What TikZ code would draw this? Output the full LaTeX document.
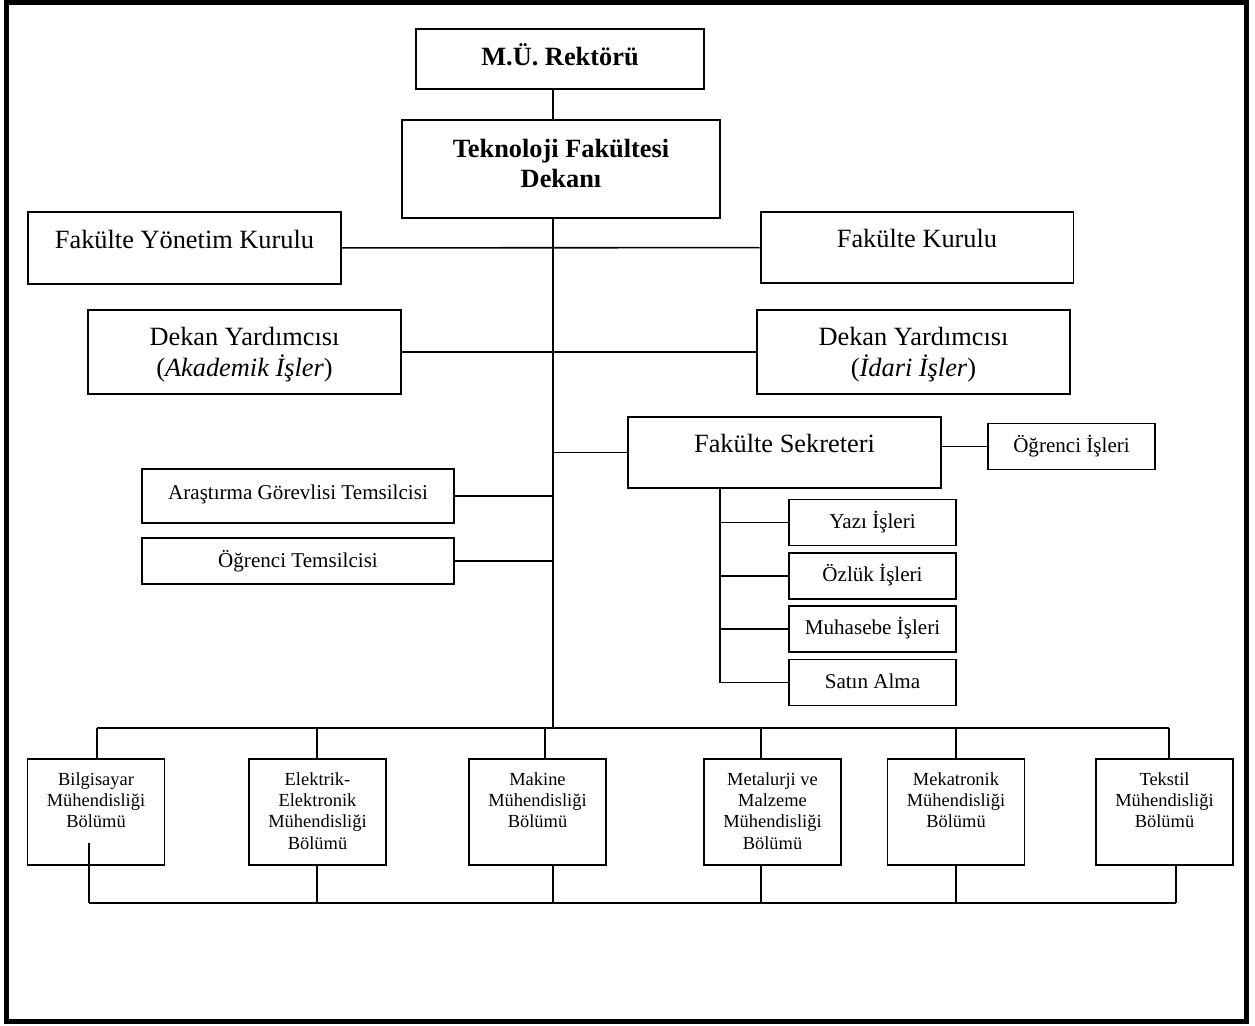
\documentclass[tikz,border=0pt]{standalone}
\usepackage{fontspec}
\setmainfont{Liberation Serif}

\tikzset{
  orgbox/.style={draw, line width=1.1pt, inner sep=0pt, align=center},
  bigbox/.style={orgbox, font=\fontsize{15}{17.5}\selectfont},
  smallbox/.style={orgbox, font=\fontsize{12}{14}\selectfont},
  rektorbox/.style={bigbox, font=\fontsize{15}{17.5}\selectfont\bfseries, minimum width=5.76cm, text height=0.72cm, text depth=0.48cm},
  dekanbox/.style={bigbox, font=\fontsize{15}{17.5}\selectfont\bfseries, minimum width=6.36cm, text height=1.356cm, text depth=0.604cm},
  kurul/.style={bigbox, minimum width=6.26cm, text height=0.72cm, text depth=0.71cm},
  yard/.style={bigbox, minimum width=6.26cm, text height=1.32cm, text depth=0.36cm},
  birim/.style={smallbox, minimum width=3.34cm, text height=0.57cm, text depth=0.35cm},
  temsil/.style={smallbox, minimum width=6.24cm},
  dept/.style={orgbox, font=\fontsize{10.5}{12.2}\selectfont, minimum width=2.74cm},
  conn/.style={line width=0.9pt}
}

\begin{document}
\begin{tikzpicture}[x=0.02cm, y=-0.02cm]
\useasboundingbox (0,0) rectangle (1255,1025);
\draw[line width=2.85pt] (6.5,2) rectangle (1246.5,1021.5);

\node[rektorbox] (rektor) at (560,59) {M.Ü. Rektörü};
\node[dekanbox] (dekan) at (561,169) {Teknoloji Fakültesi\\Dekanı};
\node[kurul] (fyk) at (184.5,248) {Fakülte Yönetim Kurulu};
\node[kurul] (fk) at (917,247.5) {Fakülte Kurulu};
\node[yard] (dy1) at (244.5,352) {Dekan Yardımcısı\\(\textit{Akademik İşler})};
\node[yard] (dy2) at (913.5,352) {Dekan Yardımcısı\\(\textit{İdari İşler})};
\node[kurul] (fs) at (784.5,452.5) {Fakülte Sekreteri};
\node[birim] (os) at (1071.5,446.5) {Öğrenci İşleri};
\node[temsil, text height=0.60cm, text depth=0.48cm] (ar) at (298,496) {Araştırma Görevlisi Temsilcisi};
\node[temsil, text height=0.58cm, text depth=0.34cm] (ot) at (298,561) {Öğrenci Temsilcisi};
\foreach \n/\y/\txt in {yazi/522.5/Yazı İşleri, ozluk/576/Özlük İşleri, muh/629/Muhasebe İşleri, satin/682.5/Satın Alma}
  \node[birim] (\n) at (872.5,\y) {\txt};

\coordinate (bus) at (553,728);
\coordinate (sek) at (720,488);
\draw[conn] (rektor.south -| bus) -- (dekan.north -| bus);
\draw[conn] (dekan.south -| bus) -- (bus);
\draw[conn] (fyk) -- (fk);
\draw[conn] (dy1) -- (dy2);
\draw[conn] (fs.west -| bus) -- (fs.west);
\draw[conn] (fs.east |- os) -- (os.west);
\draw[conn] (ar.east) -- (ar.east -| bus);
\draw[conn] (ot.east) -- (ot.east -| bus);
\draw[conn] (sek) |- (satin.west);
\foreach \n in {yazi,ozluk,muh}
  \draw[conn] (sek |- \n.west) -- (\n.west);

\foreach \n/\x/\tx/\bx/\sy/\hgt/\dpt/\txt in {
  bilg/96/97/89/843/1.378/0.742/{Bilgisayar\\Mühendisliği\\Bölümü},
  elek/317.5/317/317/865/1.806/0.314/{Elektrik-\\Elektronik\\Mühendisliği\\Bölümü},
  mak/537.5/545/553/865/1.378/0.742/{Makine\\Mühendisliği\\Bölümü},
  met/772.5/761/761/865/1.806/0.314/{Metalurji ve\\Malzeme\\Mühendisliği\\Bölümü},
  mek/956/956/956/865/1.378/0.742/{Mekatronik\\Mühendisliği\\Bölümü},
  tek/1164.5/1169/1176/865/1.378/0.742/{Tekstil\\Mühendisliği\\Bölümü}}{
  \node[dept, text height=\hgt cm, text depth=\dpt cm] (\n) at (\x,812) {\txt};
  \coordinate (\n-t) at (\tx,728);
  \coordinate (\n-s) at (\bx,\sy);
  \coordinate (\n-b) at (\bx,903);
  \draw[conn] (\n-t) -- (\n-t |- \n.north);
  \draw[conn] (\n-s) -- (\n-b);
}
\draw[conn] (bilg-t) -- (tek-t);
\draw[conn] (bilg-b) -- (tek-b);
\end{tikzpicture}
\end{document}
